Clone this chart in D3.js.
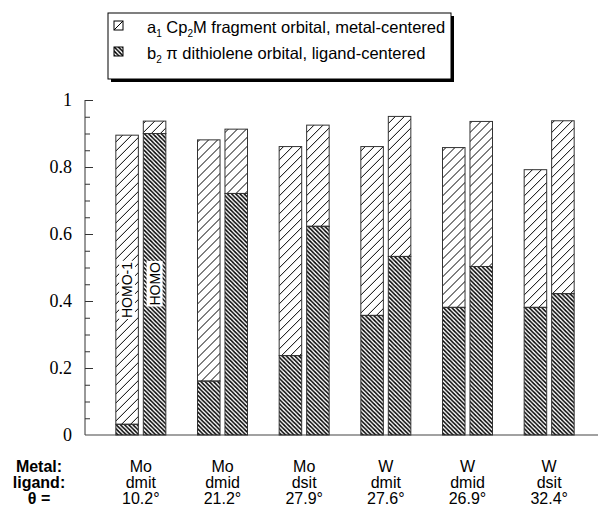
<!DOCTYPE html>
<html>
<head>
<meta charset="utf-8">
<script src="https://cdn.jsdelivr.net/npm/d3@7"></script>
<style>
  body { margin: 0; background: #fff; }
  svg { display: block; }
</style>
</head>
<body>
<svg id="chart" width="601" height="510"></svg>
<script>
// data
const metals = ['Mo', 'Mo', 'Mo', 'W', 'W', 'W'];
const ligands = ['dmit', 'dmid', 'dsit', 'dmit', 'dmid', 'dsit'];
const thetas = ['10.2°', '21.2°', '27.9°', '27.6°', '26.9°', '32.4°'];
const orbitals = ['HOMO-1', 'HOMO'];
// b2 (ligand-centered) share, bottom part of each bar
const b2HomoM1 = [0.032, 0.161, 0.237, 0.357, 0.381, 0.381];
const b2Homo = [0.900, 0.721, 0.623, 0.533, 0.503, 0.422];
// total height of bar (a1 + b2)
const totalHomoM1 = [0.895, 0.881, 0.861, 0.861, 0.858, 0.792];
const totalHomo = [0.937, 0.913, 0.925, 0.951, 0.936, 0.938];
const yTicks = [0, 0.2, 0.4, 0.6, 0.8, 1];

const sans = '"Liberation Sans", Arial, Helvetica, sans-serif';
const serif = '"Liberation Serif", "DejaVu Serif", serif';

const svg = d3.select('#chart');
const groups = metals.map((m, i) => ({
  key: i,
  bars: [
    { orb: 'HOMO-1', b2: b2HomoM1[i], total: totalHomoM1[i] },
    { orb: 'HOMO', b2: b2Homo[i], total: totalHomo[i] }
  ]
}));

const x0 = d3.scaleBand().domain(d3.range(metals.length)).range([100, 590]).padding(0);
const x1 = d3.scaleBand().domain(orbitals).range([-25, 25]).paddingInner(0.18);
const y = d3.scaleLinear().domain([0, 1]).range([435, 100]);

// hatch patterns
const defs = svg.append('defs');
const pa = defs.append('pattern').attr('id', 'hatchA').attr('patternUnits', 'userSpaceOnUse')
  .attr('width', 9).attr('height', 9);
pa.append('path').attr('d', 'M0,9 L9,0 M-3,3 L3,-3 M6,12 L12,6')
  .attr('stroke', '#000').attr('stroke-width', 1);
const pb = defs.append('pattern').attr('id', 'hatchB').attr('patternUnits', 'userSpaceOnUse')
  .attr('width', 4.2).attr('height', 4.2);
pb.append('path').attr('d', 'M0,0 L4.2,4.2 M-2.1,2.1 L2.1,6.3 M2.1,-2.1 L6.3,2.1')
  .attr('stroke', '#000').attr('stroke-width', 1.5);

// y axis: ticks inside, minor every 0.05
const axisG = svg.append('g').attr('transform', 'translate(85,0)');
axisG.call(d3.axisRight(y).tickValues(d3.range(0, 1.0001, 0.05)).tickSize(5).tickFormat(''));
axisG.selectAll('.tick line').attr('stroke', '#333')
  .attr('x2', d => yTicks.some(t => Math.abs(t - d) < 1e-6) ? 8 : 5);
axisG.select('.domain').attr('stroke', '#333').attr('d', `M0,${y(0)}V${y(1)}`);
axisG.selectAll('.tick').filter(d => Math.abs(d) < 1e-6).select('line').remove();

svg.append('g').selectAll('text').data(yTicks).enter().append('text')
  .attr('x', 72).attr('y', d => y(d) + 6)
  .attr('text-anchor', 'end')
  .style('font-family', serif).style('font-size', '18px')
  .text(d => d === 0 || d === 1 ? d : d.toFixed(1));

// x axis line
svg.append('line').attr('x1', 85).attr('x2', 598).attr('y1', y(0)).attr('y2', y(0))
  .attr('stroke', '#444').attr('stroke-width', 1.2);

// bars
const gEl = svg.append('g').selectAll('g').data(groups).enter().append('g')
  .attr('transform', d => `translate(${x0(d.key) + x0.bandwidth() / 2},0)`);
const barEl = gEl.selectAll('g').data(d => d.bars).enter().append('g');
barEl.append('rect')
  .attr('x', d => x1(d.orb)).attr('width', x1.bandwidth())
  .attr('y', d => y(d.b2)).attr('height', d => y(0) - y(d.b2))
  .attr('fill', 'url(#hatchB)').attr('stroke', '#333').attr('stroke-width', 1);
barEl.append('rect')
  .attr('x', d => x1(d.orb)).attr('width', x1.bandwidth())
  .attr('y', d => y(d.total)).attr('height', d => y(d.b2) - y(d.total))
  .attr('fill', 'url(#hatchA)').attr('stroke', '#333').attr('stroke-width', 1);

// HOMO-1 / HOMO labels inside the first group
const firstG = gEl.filter(d => d.key === 0);
orbitals.forEach(o => {
  const cx = x1(o) + x1.bandwidth() / 2;
  const t = firstG.append('text')
    .attr('transform', `translate(${cx + 5},262) rotate(-90)`)
    .attr('text-anchor', 'end')
    .attr('font-family', sans).attr('font-size', 14)
    .text(o);
  const bb = t.node().getBBox();
  firstG.insert('rect', () => t.node())
    .attr('transform', `translate(${cx + 5},262) rotate(-90)`)
    .attr('x', bb.x - 1).attr('y', bb.y).attr('width', bb.width + 2).attr('height', bb.height)
    .attr('fill', '#fff');
});

// category labels below the axis
const rowY = [472, 488, 504];
const labelRows = [metals, ligands, thetas];
const rowNames = ['Metal:', 'ligand:', 'θ ='];
labelRows.forEach((arr, r) => {
  svg.append('g').selectAll('text').data(arr).enter().append('text')
    .attr('x', (d, i) => x0(i) + x0.bandwidth() / 2)
    .attr('y', rowY[r])
    .attr('text-anchor', 'middle')
    .attr('font-family', sans).attr('font-size', 16)
    .text(d => d);
  svg.append('text').attr('x', 39).attr('y', rowY[r]).attr('text-anchor', 'middle')
    .attr('font-family', sans).attr('font-size', 16)
    .attr('font-weight', 'bold').text(rowNames[r]);
});

// legend with drop shadow
const lg = svg.append('g');
lg.append('rect').attr('x', 111).attr('y', 16).attr('width', 343).attr('height', 66).attr('fill', '#000');
lg.append('rect').attr('x', 108).attr('y', 13).attr('width', 343).attr('height', 66)
  .attr('fill', '#fff').attr('stroke', '#000').attr('stroke-width', 1);
const legendItems = [
  { pat: 'hatchA', y: 33, main: 'a', sub: '1', rest: [' Cp', '2', 'M fragment orbital, metal-centered'] },
  { pat: 'hatchB', y: 59, main: 'b', sub: '2', rest: [' π dithiolene orbital, ligand-centered'] }
];
legendItems.forEach(it => {
  lg.append('rect').attr('x', 114).attr('y', it.y - 12).attr('width', 9).attr('height', 9)
    .attr('fill', `url(#${it.pat})`).attr('stroke', '#000').attr('stroke-width', 1);
  const t = lg.append('text').attr('x', 147).attr('y', it.y)
    .attr('font-family', sans).attr('font-size', 16.5);
  t.append('tspan').text(it.main);
  t.append('tspan').attr('dy', 4).attr('font-size', 10).text(it.sub);
  t.append('tspan').attr('dy', -4).text(it.rest[0]);
  if (it.rest.length > 1) {
    t.append('tspan').attr('dy', 4).attr('font-size', 10).text(it.rest[1]);
    t.append('tspan').attr('dy', -4).text(it.rest[2]);
  }
});
</script>
</body>
</html>
